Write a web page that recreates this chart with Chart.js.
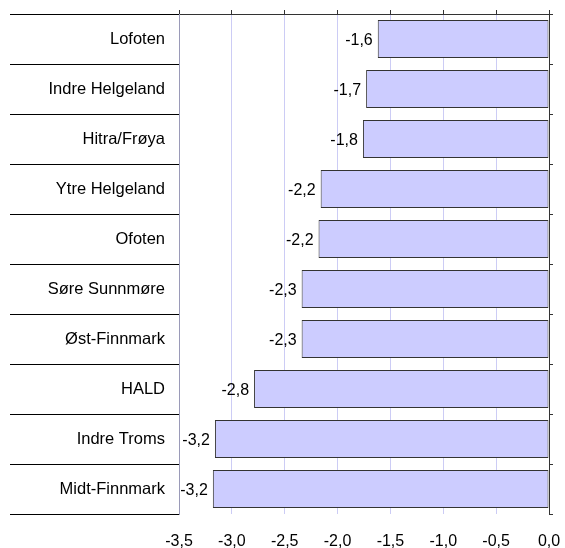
<!DOCTYPE html>
<html>
<head>
<meta charset="utf-8">
<script src="https://cdn.jsdelivr.net/npm/chart.js@4.4.1/dist/chart.umd.min.js"></script>
<style>
  html, body { margin: 0; padding: 0; background: #fff; }
  #wrap { width: 565px; height: 548px; }
</style>
</head>
<body>
<div id="wrap"><canvas id="c" width="565" height="548"></canvas></div>
<script>
// regioner og endring
const regions = ['Lofoten', 'Indre Helgeland', 'Hitra/Frøya', 'Ytre Helgeland', 'Ofoten',
  'Søre Sunnmøre', 'Øst-Finnmark', 'HALD', 'Indre Troms', 'Midt-Finnmark'];
const values = [-1.62, -1.73, -1.76, -2.16, -2.18, -2.34, -2.34, -2.79, -3.16, -3.18];
const xMin = -3.5, xMax = 0, xStep = 0.5;

const fmt = v => v.toFixed(1).replace('.', ',');
const FONT = 'Arial, "Liberation Sans", sans-serif';

// verdietiketter til venstre for stolpene
const valueLabels = {
  id: 'valueLabels',
  afterDatasetsDraw(chart) {
    const ctx = chart.ctx;
    const meta = chart.getDatasetMeta(0);
    ctx.save();
    ctx.font = '16px ' + FONT;
    ctx.fillStyle = '#000';
    ctx.textAlign = 'right';
    ctx.textBaseline = 'middle';
    meta.data.forEach((bar, i) => {
      ctx.fillText(fmt(values[i]), bar.x - 5, bar.y + 2);
    });
    ctx.restore();
  }
};

const noSidePad = s => { s.paddingLeft = 0; s.paddingRight = 0; };

new Chart(document.getElementById('c'), {
  type: 'bar',
  data: {
    labels: regions,
    datasets: [{
      data: values,
      backgroundColor: '#ccccff',
      borderColor: '#333333',
      borderWidth: 1,
      borderSkipped: false,
      barPercentage: 0.76,
      categoryPercentage: 1
    }]
  },
  options: {
    indexAxis: 'y',
    responsive: false,
    animation: false,
    layout: { padding: 0 },
    plugins: { legend: { display: false }, tooltip: { enabled: false } },
    scales: {
      x: {
        position: 'bottom',
        min: xMin, max: xMax,
        ticks: {
          stepSize: xStep,
          padding: 18,
          color: '#000',
          font: { family: FONT, size: 16 },
          callback: v => fmt(v)
        },
        grid: { color: '#ccccf5', drawTicks: false },
        border: { display: false },
        afterFit: s => { s.height = 34; noSidePad(s); }
      },
      x2: {
        type: 'linear',
        position: 'top',
        min: xMin, max: xMax,
        ticks: { display: false, stepSize: xStep },
        grid: { drawOnChartArea: false, tickLength: 4, color: '#333' },
        border: { color: '#333' },
        afterFit: s => { s.height = 14; noSidePad(s); }
      },
      y: {
        position: 'left',
        offset: true,
        ticks: {
          color: '#000',
          font: { family: FONT, size: 16.5 },
          crossAlign: 'near',
          padding: -155
        },
        grid: { offset: true, drawOnChartArea: false, tickLength: 169, color: '#000' },
        border: { color: '#9a9ab8' },
        afterFit: s => { s.width = 179; }
      },
      y2: {
        type: 'category',
        position: 'right',
        offset: true,
        ticks: { display: false },
        grid: { offset: true, drawOnChartArea: false, tickLength: 4, color: '#333' },
        border: { color: '#333' },
        afterFit: s => { s.width = 16; }
      }
    }
  },
  plugins: [valueLabels]
});
</script>
</body>
</html>
